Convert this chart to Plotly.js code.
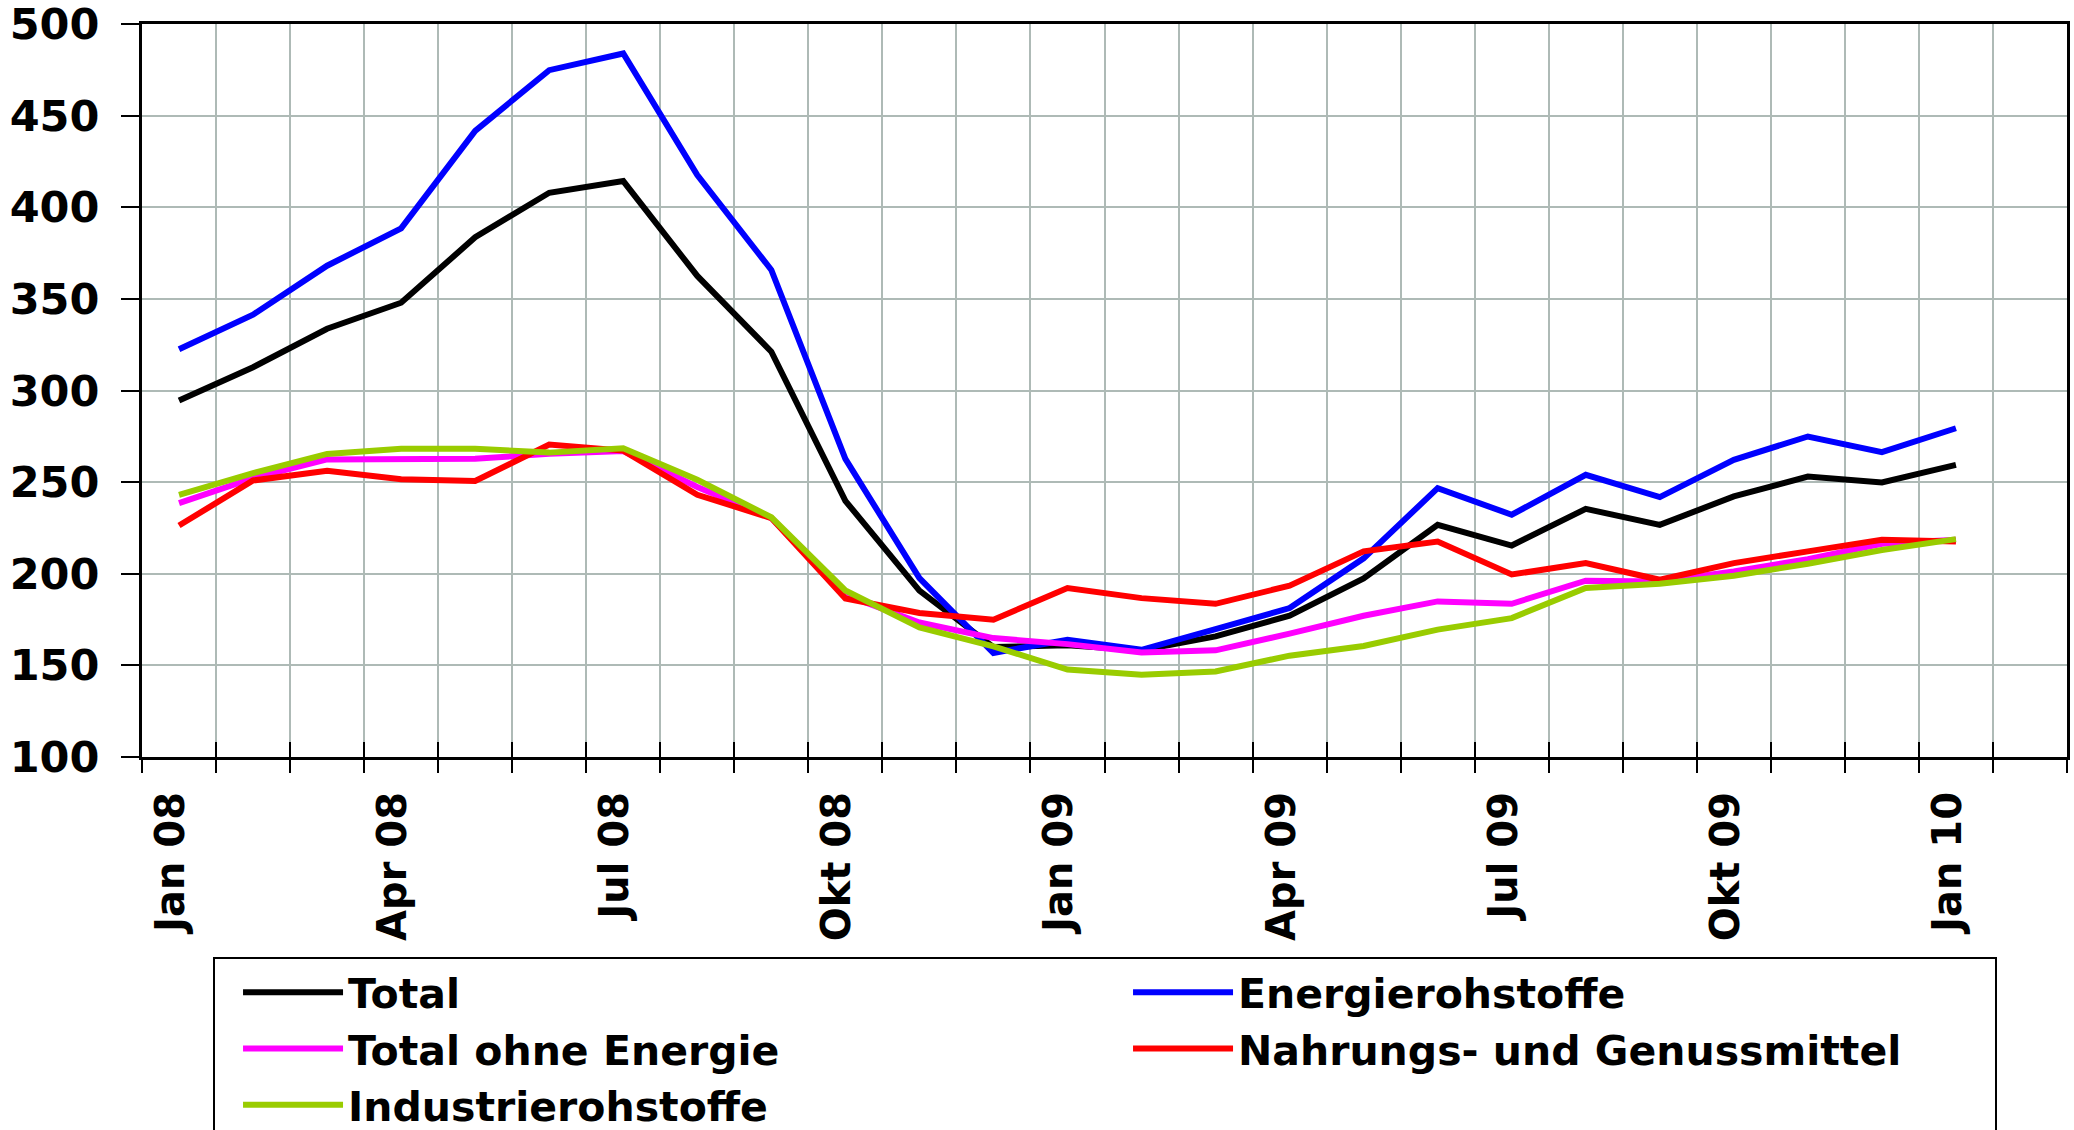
<!DOCTYPE html>
<html>
<head>
<meta charset="utf-8">
<script src="https://cdn.plot.ly/plotly-3.0.1.min.js"></script>
<style>html,body{margin:0;padding:0;background:#fff;}#chart{width:2074px;height:1130px;}</style>
</head>
<body>
<div id="chart"></div>
<script>
// Months (categories) — last one is an empty slot as in the reference
const months = ["Jan 08","Feb 08","Mär 08","Apr 08","Mai 08","Jun 08","Jul 08","Aug 08","Sep 08","Okt 08","Nov 08","Dez 08",
                "Jan 09","Feb 09","Mär 09","Apr 09","Mai 09","Jun 09","Jul 09","Aug 09","Sep 09","Okt 09","Nov 09","Dez 09",
                "Jan 10","Feb 10"];
const tickLabels = ["Jan 08","Apr 08","Jul 08","Okt 08","Jan 09","Apr 09","Jul 09","Okt 09","Jan 10"];

const seriesNames = ["Total","Energierohstoffe","Total ohne Energie","Nahrungs- und Genussmittel","Industrierohstoffe"];

const total      = [294.5,312.7,333.7,347.9,383.6,407.9,414.3,362.5,321.2,239.8,190.8,160.0,161.0,158.2,165.8,177.1,197.4,226.7,215.4,235.4,226.7,242.2,253.0,249.8,259.4];
const energie    = [322.5,341.4,368.1,388.5,441.7,474.8,483.9,417.6,365.8,262.7,197.6,156.8,164.0,158.5,169.8,181.3,208.4,246.7,232.2,254.0,241.8,262.2,274.9,266.4,279.4];
const ohneEnergie= [238.5,252.2,262.4,262.7,262.7,265.5,267.0,247.3,230.4,188.5,173.4,164.9,161.6,157.0,158.2,167.3,177.1,184.9,183.6,196.2,195.8,201.3,208.0,216.4,218.5];
const nahrung    = [226.3,250.9,256.2,251.6,250.6,270.5,267.2,243.1,230.4,186.5,178.6,174.9,192.2,186.7,183.6,193.5,212.2,217.6,199.6,205.8,196.7,205.8,212.2,218.5,217.6];
const industrie  = [243.1,254.9,265.4,268.2,268.2,266.1,268.5,251.3,230.8,190.9,170.7,160.4,147.7,144.9,146.7,155.3,160.6,169.5,175.8,192.2,194.5,198.9,205.5,213.0,218.9];

const colors = ["#000000","#0000FF","#FF00FF","#FF0000","#99CC00"];
const values = [total, energie, ohneEnergie, nahrung, industrie];

const FONT = "DejaVu Sans, Arial, sans-serif";
const xs = months.slice(0, total.length);

const traces = values.map((v, i) => ({
  type: "scatter", mode: "lines",
  x: xs, y: v, name: seriesNames[i],
  line: {color: colors[i], width: 6},
  xaxis: "x", yaxis: "y",
  hoverinfo: "x+y+name"
}));

// boundaries between months (grid and ticks)
const bounds = [];
for (let k = 0; k <= months.length; k++) bounds.push(k - 0.5);
const range = [-0.5, months.length - 0.5];

const layout = {
  width: 2074, height: 1130,
  margin: {l: 142, r: 7, t: 24, b: 372.6, pad: 0, autoexpand: false},
  paper_bgcolor: "#ffffff", plot_bgcolor: "#ffffff",
  showlegend: true,
  font: {family: FONT, color: "#000", size: 40, weight: 700},
  xaxis: {
    type: "category", categoryorder: "array", categoryarray: months,
    range: range, autorange: false,
    tickmode: "array", tickvals: tickLabels, ticktext: tickLabels,
    tickangle: -90, ticks: "", showgrid: false, zeroline: false,
    showline: true, linecolor: "#000", linewidth: 3, mirror: true,
    ticklabelstandoff: 16, ticklabelshift: -8, ticklabeloverflow: "allow",
    tickfont: {family: FONT, size: 40, color: "#000", weight: 700}
  },
  xaxis2: {
    overlaying: "x", anchor: "y", type: "linear",
    range: range, autorange: false,
    tickmode: "array", tickvals: bounds, showticklabels: false,
    ticks: "outside", ticklen: 15, tickwidth: 2, tickcolor: "#000",
    showgrid: true, gridcolor: "#AEBAB6", gridwidth: 2, zeroline: false,
    showline: false
  },
  xaxis3: {
    overlaying: "x", anchor: "y", type: "linear",
    range: range, autorange: false,
    tickmode: "array", tickvals: bounds, showticklabels: false,
    ticks: "inside", ticklen: 15, tickwidth: 2, tickcolor: "#000",
    showgrid: false, zeroline: false, showline: false
  },
  yaxis: {
    range: [100, 500], autorange: false, dtick: 50, tick0: 100,
    ticks: "outside", ticklen: 18, tickwidth: 2, tickcolor: "#000",
    showgrid: true, gridcolor: "#AEBAB6", gridwidth: 2, zeroline: false,
    showline: true, linecolor: "#000", linewidth: 3, mirror: true,
    ticklabelstandoff: 13, ticklabeloverflow: "allow",
    tickfont: {family: FONT, size: 43, color: "#000", weight: 700}
  },
  legend: {
    orientation: "h",
    x: 0.0369, xanchor: "left", y: -0.273, yanchor: "top",
    bordercolor: "#000", borderwidth: 2, bgcolor: "#fff",
    font: {family: FONT, size: 41, color: "#000", weight: 700},
    entrywidth: 752, entrywidthmode: "pixels",
    itemwidth: 100, indentation: 23, tracegroupgap: 0,
    traceorder: "normal"
  }
};

// empty helper traces so that the overlay tick axes are drawn
traces.push({type: "scatter", x: [], y: [], xaxis: "x2", yaxis: "y", showlegend: false, hoverinfo: "skip"});
traces.push({type: "scatter", x: [], y: [], xaxis: "x3", yaxis: "y", showlegend: false, hoverinfo: "skip"});

Plotly.newPlot("chart", traces, layout, {staticPlot: true});
</script>
</body>
</html>
